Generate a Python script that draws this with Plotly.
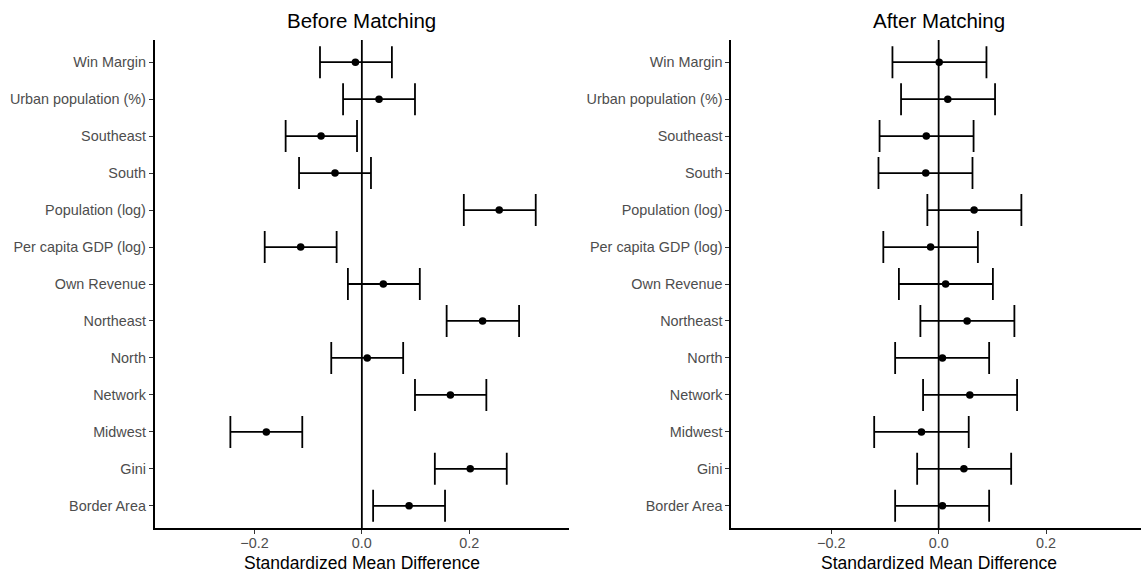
import plotly.graph_objects as go

# Covariates, bottom to top on the y axis
covariates = [
    "Border Area", "Gini", "Midwest", "Network", "North", "Northeast",
    "Own Revenue", "Per capita GDP (log)", "Population (log)", "South",
    "Southeast", "Urban population (%)", "Win Margin",
]

# Standardized mean differences and 95% intervals, before matching
before_est = [0.088, 0.202, -0.178, 0.165, 0.010, 0.225, 0.040, -0.114, 0.256, -0.050, -0.076, 0.032, -0.012]
before_low = [0.021, 0.136, -0.245, 0.099, -0.057, 0.158, -0.026, -0.181, 0.190, -0.117, -0.142, -0.035, -0.078]
before_high = [0.155, 0.270, -0.111, 0.232, 0.077, 0.293, 0.108, -0.047, 0.324, 0.017, -0.009, 0.099, 0.056]

# Same quantities after matching
after_est = [0.007, 0.047, -0.032, 0.058, 0.007, 0.053, 0.013, -0.015, 0.066, -0.024, -0.023, 0.017, 0.001]
after_low = [-0.081, -0.040, -0.120, -0.029, -0.081, -0.034, -0.074, -0.103, -0.021, -0.112, -0.110, -0.070, -0.086]
after_high = [0.094, 0.135, 0.056, 0.146, 0.094, 0.141, 0.101, 0.073, 0.154, 0.063, 0.065, 0.105, 0.089]

x_ticks = [-0.2, 0.0, 0.2]
x_tick_labels = ["\u22120.2", "0.0", "0.2"]

panel_titles = ["Before Matching", "After Matching"]
x_title = "Standardized Mean Difference"

W, H = 1141, 572
FONT = "Liberation Sans, Arial, Helvetica, sans-serif"
GREY = "#4d4d4d"

fig = go.Figure()


def add_panel(est, low, high, xname, yname):
    fig.add_trace(go.Scatter(
        x=est, y=covariates, xaxis=xname, yaxis=yname,
        mode="markers",
        marker=dict(color="black", size=7.5),
        error_x=dict(
            type="data", symmetric=False,
            array=[h - e for h, e in zip(high, est)],
            arrayminus=[e - l for e, l in zip(est, low)],
            color="black", thickness=1.8, width=16,
        ),
        showlegend=False, hoverinfo="skip",
    ))


add_panel(before_est, before_low, before_high, "x", "y")
add_panel(after_est, after_low, after_high, "x2", "y2")

xaxis_common = dict(
    showline=True, linecolor="black", linewidth=1.8,
    showgrid=False, zeroline=False,
    ticks="outside", ticklen=4, tickwidth=1, tickcolor="#333333",
    tickvals=x_ticks, ticktext=x_tick_labels,
    tickfont=dict(family=FONT, size=14.4, color=GREY),
    ticklabelstandoff=-3,
    fixedrange=True,
)
yaxis_common = dict(
    type="category", categoryorder="array", categoryarray=covariates,
    range=[-0.6, 12.6], domain=[0, 1],
    showline=True, linecolor="black", linewidth=1.8,
    showgrid=False, zeroline=False,
    ticks="outside", ticklen=4, tickwidth=1, tickcolor="#333333",
    tickfont=dict(family=FONT, size=14.4, color=GREY),
    fixedrange=True,
)

left_l, left_r = 154.7, 569.0
right_l, right_r = 731.3, 1146.0
scale = (right_r - right_l) / (2 * 0.386)

fig.update_layout(
    width=W, height=H,
    margin=dict(l=0, r=0, t=40, b=44),
    paper_bgcolor="white", plot_bgcolor="white",
    xaxis=dict(xaxis_common, domain=[left_l / W, left_r / W], range=[-0.386, 0.386], anchor="y"),
    yaxis=dict(yaxis_common, anchor="x"),
    xaxis2=dict(xaxis_common, domain=[right_l / W, 1.0],
                range=[-0.386, -0.386 + (W - right_l) / scale], anchor="y2"),
    yaxis2=dict(yaxis_common, anchor="x2"),
    font=dict(family=FONT),
)

# Reference line at zero in each panel
for xr, yr in (("x", "y"), ("x2", "y2")):
    fig.add_shape(type="line", xref=xr, yref=f"{yr} domain",
                  x0=0, x1=0, y0=0, y1=1,
                  line=dict(color="black", width=1.8), layer="above")

plot_h = H - 40 - 44
centers = [(left_l + left_r) / 2, (right_l + right_r) / 2]
for cx, title in zip(centers, panel_titles):
    fig.add_annotation(text=title, xref="paper", yref="paper",
                       x=cx / W, y=1 + (40 - 20.5) / plot_h,
                       xanchor="center", yanchor="middle", showarrow=False,
                       font=dict(family=FONT, size=20.5, color="black"))
    fig.add_annotation(text=x_title, xref="paper", yref="paper",
                       x=cx / W, y=-(562.5 - (H - 44)) / plot_h,
                       xanchor="center", yanchor="middle", showarrow=False,
                       font=dict(family=FONT, size=17.5, color="black"))

fig.write_html("out.html", config=dict(displayModeBar=False))
